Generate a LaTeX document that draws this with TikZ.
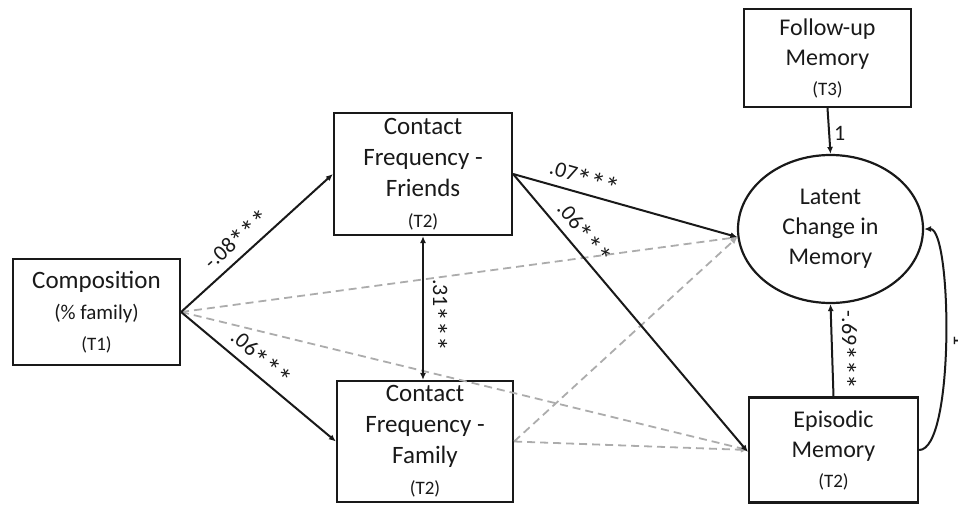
\documentclass[tikz,border=0pt]{standalone}
\usepackage{fontspec}
\usepackage{graphicx}
\setmainfont{Carlito}
\usetikzlibrary{arrows.meta,shapes.geometric}
\definecolor{lgray}{RGB}{172,172,172}
\definecolor{ink}{RGB}{25,25,25}
\newcommand\fbig{\fontsize{25}{31}\selectfont}
\newcommand\fmid{\fontsize{24}{30}\selectfont}
\newcommand\fsubx{\fontsize{21}{25}\selectfont}
\newcommand\ftee{\fontsize{19}{25}\selectfont}
\newcommand\sstar{\raisebox{-6.5pt}{\scalebox{1.35}{*}}}
\newcommand\sigstars{\sstar\sstar\sstar}
\begin{document}
\begin{tikzpicture}[x=1pt,y=-1pt,
  box/.style={draw=ink,line width=2.2pt,inner sep=0pt,align=center,text=ink},
  solidarr/.style={draw=ink,line width=2pt,-{Latex[length=7pt,width=6pt]}},
  dasharr/.style={draw=lgray,line width=1.8pt,dash pattern=on 8pt off 5pt,-{Latex[length=7pt,width=6pt]}},
  lab/.style={font=\fontsize{22}{26}\selectfont,text=ink,inner sep=2.5pt}
]
\useasboundingbox (0,0) rectangle (958,504);

% nodes
\node[box,minimum width=167pt,minimum height=106pt,font=\fbig] (comp) at (96.5,312)
  {Composition\\{\fsubx(\% family)}\\{\ftee(T1)}};
\node[box,minimum width=178pt,minimum height=122pt,font=\fbig] (fri) at (423,174)
  {Contact\\Frequency -\\Friends\\{\ftee(T2)}};
\node[box,minimum width=176pt,minimum height=121pt,font=\fbig] (fam) at (425,441.5)
  {Contact\\Frequency -\\Family\\{\ftee(T2)}};
\node[box,minimum width=167pt,minimum height=98pt,font=\fmid] (fol) at (827.5,58)
  {Follow-up\\Memory\\{\ftee(T3)}};
\node[box,ellipse,minimum width=185pt,minimum height=148pt,font=\fmid] (lat) at (830.5,229)
  {Latent\\Change in\\Memory};
\node[box,minimum width=169pt,minimum height=105pt,font=\fmid] (epi) at (833.5,450)
  {Episodic\\Memory\\{\ftee(T2)}};

% dashed (non-significant) paths
\draw[dasharr] (comp.east) -- (lat.185);
\draw[dasharr] (comp.east) -- (epi.west);
\draw[dasharr] (fam.east) -- (lat.185);
\draw[dasharr] (fam.east) -- (epi.west);

% solid paths
\draw[solidarr] (comp.east) -- node[lab,pos=0.44,above,sloped] (l1) {-.08\sigstars} (fri.west);
\draw[solidarr] (comp.east) -- node[lab,pos=0.45,above,sloped] (l2) {.06\sigstars} (fam.west);
\draw[solidarr] (fri.east) -- node[lab,pos=0.3,above,sloped] (l3) {.07\sigstars} (lat.185);
\draw[solidarr] (fri.east) -- node[lab,pos=0.25,above,sloped] (l4) {.06\sigstars} ([yshift=-2pt]epi.west);
\draw[draw=ink,line width=2pt,{Latex[length=7pt,width=6pt]}-{Latex[length=7pt,width=6pt]}]
  (fri.south) -- node[lab,pos=0.55,rotate=-90,anchor=south] (l5) {.31\sigstars} (fri.south |- fam.north);
\draw[solidarr] (fol.south) -- node[lab,pos=0.55,anchor=west,inner sep=4pt] (l6) {1} (lat.north);
\draw[solidarr] (epi.north) -- node[lab,pos=0.5,rotate=-90,anchor=south] (l7) {-.69\sigstars} (lat.south);
\draw[solidarr] (epi.east) .. controls (955,450) and (952,229) .. (lat.east);
\node[lab,rotate=-90] (l8) at (961,340) {1};
\end{tikzpicture}
\end{document}
